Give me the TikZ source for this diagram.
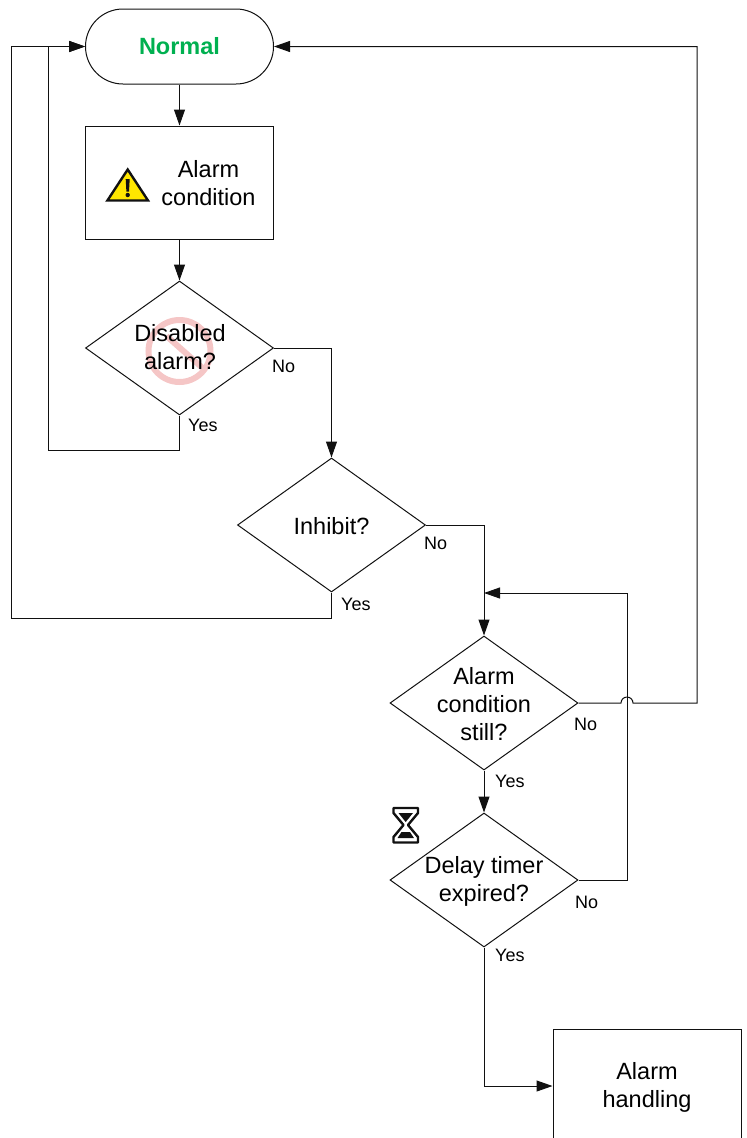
\documentclass[tikz,border=0pt]{standalone}
\usepackage{fontspec}
\setmainfont{Liberation Sans}
\usetikzlibrary{arrows.meta,positioning,calc,shapes.geometric,shapes.misc}
\definecolor{AlarmGreen}{HTML}{00B050}
\definecolor{AlarmYellow}{HTML}{FFE600}
\definecolor{AlarmPink}{HTML}{F5C6C6}
\definecolor{AlarmInk}{HTML}{111111}

\begin{document}
\begin{tikzpicture}[
  x=1pt, y=-1pt,
  terminal/.style={rounded rectangle, draw=AlarmInk, line width=1pt, minimum width=188pt,
                   minimum height=75pt, inner sep=0pt, font=\fontsize{23.5}{28}\selectfont\bfseries,
                   text=AlarmGreen},
  process/.style={rectangle, draw=AlarmInk, line width=1pt, minimum width=188pt,
                  minimum height=113pt, inner sep=0pt, align=center,
                  font=\fontsize{23.5}{28}\selectfont},
  decision/.style={diamond, draw=AlarmInk, line width=1pt, minimum width=188pt,
                   minimum height=134pt, inner sep=0pt},
  decisiontext/.style={align=center, inner sep=0pt, font=\fontsize{23.5}{28}\selectfont},
  answer/.style={inner sep=0pt, font=\fontsize{18}{20}\selectfont},
  connector/.style={line width=1pt, color=AlarmInk},
  flow/.style={connector, -{Triangle[length=16pt, width=11pt]}},
]
\useasboundingbox (0,0) rectangle (747,1138);

% --- Nodes ---
\node[terminal] (normal) at (179.5, 46.5) {Normal};
\node[process] (condition) at (179.5, 182.5) {};
\node[decision] (disabled) at (179.5, 348) {};
\node[decision] (inhibit) at (331.5, 525) {};
\node[decision] (still) at (484, 703) {};
\node[decision] (delay) at (484, 880) {};
\node[process] (handling) at (647, 1086) {};

% No-entry mark
\draw[AlarmPink, line width=6pt] (179.5, 351) circle[radius=31pt];
\draw[AlarmPink, line width=6pt] (166.5, 336) -- (206, 371);

% --- Texts ---
\node[decisiontext] (condition-text) at (208.5, 183) {Alarm\\condition};
\node[decisiontext] (disabled-text) at (180, 347.5) {Disabled\\alarm?};
\node[decisiontext] (inhibit-text) at (331.5, 526) {Inhibit?};
\node[decisiontext] (still-text) at (484, 704) {Alarm\\condition\\still?};
\node[decisiontext] (delay-text) at (484, 881.5) {Delay timer\\expired?};
\node[decisiontext] (handling-text) at (647, 1087.5) {Alarm\\handling};

% Warning sign
\draw[AlarmInk, fill=AlarmYellow, line width=2.4pt, line join=miter]
  (127.7, 169.5) -- (148, 200.5) -- (107.4, 200.5) -- cycle;
\fill[AlarmInk] (125.7, 179) -- (129.7, 179) -- (129, 191.5) -- (126.4, 191.5) -- cycle;
\fill[AlarmInk] (127.7, 195) circle[radius=2.2pt];

% Hourglass
\draw[AlarmInk, line width=2.4pt, line join=round]
  (393.5, 808) -- (418, 808) -- (418, 813) -- (408, 825) -- (418, 837) -- (418, 842.5)
  -- (393.5, 842.5) -- (393.5, 837) -- (403.5, 825) -- (393.5, 813) -- cycle;
\fill[AlarmInk] (398.5, 813) -- (413, 813) -- (405.7, 822) -- cycle;
\fill[AlarmInk] (397.5, 838) -- (414, 838) -- (410, 832) -- (401.5, 832) -- cycle;

% --- Connectors ---
\draw[flow] (normal) -- (condition);
\draw[flow] (condition) -- (disabled);
\draw[flow] (disabled.east) -| (inhibit.north);
\draw[flow] (inhibit.east) -| (still.north);
\draw[flow] (still) -- (delay);
\draw[flow] (delay.south) |- (handling.west);

\coordinate (back-a) at (48, 450);
\coordinate (back-b) at (11, 618);
\coordinate (back-c) at (697, 703);
\coordinate (retry) at (627, 593);
\coordinate (hop) at (627, 703);
\coordinate (join) at (484, 593);

\draw[flow] (disabled.south) |- (back-a) |- (normal.west);
\draw[flow] (inhibit.south) |- (back-b) |- (normal.west);
\draw[flow] (still.east) -- ($(hop)+(-6,0)$) arc[start angle=180, end angle=0, radius=6pt]
  -- (back-c) |- (normal.east);
\draw[flow] (delay.east) -| (retry) -- (join);

% --- Answers ---
\node[answer, anchor=west] (disabled-no) at (272, 366) {No};
\node[answer, anchor=west] (disabled-yes) at (188, 425.5) {Yes};
\node[answer, anchor=west] (inhibit-no) at (424, 543) {No};
\node[answer, anchor=west] (inhibit-yes) at (341, 604) {Yes};
\node[answer, anchor=west] (still-no) at (574, 724) {No};
\node[answer, anchor=west] (still-yes) at (495, 781) {Yes};
\node[answer, anchor=west] (delay-no) at (575, 902) {No};
\node[answer, anchor=west] (delay-yes) at (495, 955) {Yes};

\end{tikzpicture}
\end{document}
